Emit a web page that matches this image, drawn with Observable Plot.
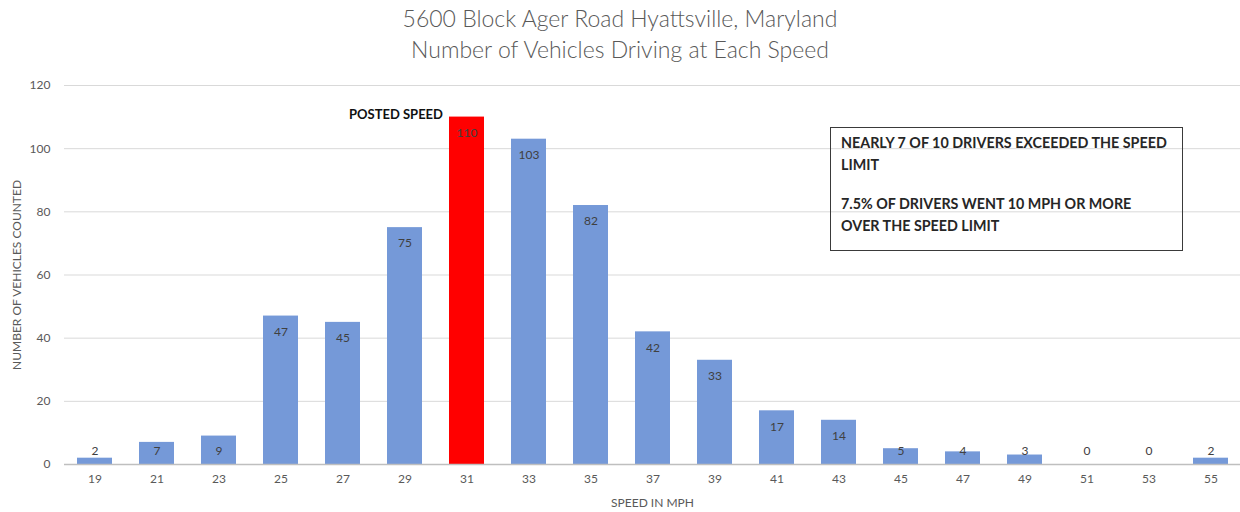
<!DOCTYPE html>
<html><head><meta charset="utf-8">
<script src="https://cdn.jsdelivr.net/npm/d3@7"></script>
<script src="https://cdn.jsdelivr.net/npm/@observablehq/plot@0.6"></script>
<style>
body{margin:0;background:#fff;font-family:Lato,"Noto Sans",sans-serif;}
#wrap{position:relative;width:1240px;height:512px;overflow:hidden;}
.t{position:absolute;left:0;width:1240px;text-align:center;color:#595959;font-size:23px;font-weight:300;}
#note{position:absolute;left:830px;top:127px;width:353px;height:124px;border:1.5px solid #3a3a3a;box-sizing:border-box;padding:4px 10px;font-size:14.3px;font-weight:700;color:#262626;line-height:22px;}
#chart{position:absolute;left:0;top:70px;}
</style></head><body>
<div id="wrap">
<div class="t" style="top:4px">5600 Block Ager Road Hyattsville, Maryland</div>
<div class="t" style="top:35px">Number of Vehicles Driving at Each Speed</div>
<div id="chart"></div>
<div id="note">NEARLY 7 OF 10 DRIVERS EXCEEDED THE SPEED LIMIT<div style="height:17px"></div>7.5% OF DRIVERS WENT 10 MPH OR MORE OVER THE SPEED LIMIT</div>
</div>
<script>
const speeds = ["19","21","23","25","27","29","31","33","35","37","39","41","43","45","47","49","51","53","55"];
const counts = [2,7,9,47,45,75,110,103,82,42,33,17,14,5,4,3,0,0,2];
const postedSpeed = "31";
const yTicks = [0,20,40,60,80,100,120];
const data = speeds.map((s,i)=>({speed:s,count:counts[i]}));

const chart = Plot.plot({
  width:1240, height:442,
  marginTop:15, marginBottom:48, marginLeft:64, marginRight:0,
  style:{fontFamily:"Lato, 'Noto Sans', sans-serif", color:"#595959", fontSize:"12px", background:"#fff"},
  x:{domain:speeds, paddingInner:0.44, paddingOuter:0.2, label:"SPEED IN MPH", labelAnchor:"center", labelArrow:"none", labelOffset:42, tickSize:0, tickPadding:10},
  y:{domain:[0,120], ticks:yTicks, label:"NUMBER OF VEHICLES COUNTED", labelAnchor:"center", labelArrow:"none", labelOffset:52, tickSize:0, tickPadding:14},
  marks:[
    Plot.gridY(yTicks.filter(t=>t>0), {stroke:"#d9d9d9", strokeOpacity:1, strokeWidth:1}),
    Plot.barY(data, {x:"speed", y:"count", fill:d=>d.speed===postedSpeed?"#ff0000":"#7599d8"}),
    Plot.ruleY([0], {stroke:"#bfbfbf", strokeWidth:1.5}),
    Plot.text(data, {x:"speed", y:d=>Math.max(d.count,9.2), dy:16, text:d=>String(d.count), fill:"#404040", fontSize:12}),
    Plot.text([{speed:postedSpeed,count:counts[speeds.indexOf(postedSpeed)]}], {x:"speed", y:"count", dx:-24, dy:-2, text:()=>"POSTED SPEED", textAnchor:"end", fill:"#111", fontWeight:"bold", fontSize:13})
  ]
});
document.getElementById("chart").appendChild(chart);
</script>
</body></html>
